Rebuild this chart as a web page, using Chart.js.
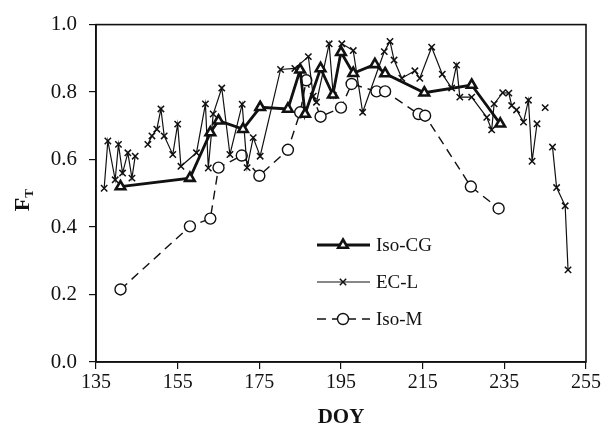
<!DOCTYPE html>
<html>
<head>
<meta charset="utf-8">
<script src="https://cdn.jsdelivr.net/npm/chart.js@4.4.1/dist/chart.umd.min.js"></script>
<style>
  html, body { margin: 0; padding: 0; background: #fff; }
  #wrap { width: 604px; height: 432px; }
</style>
</head>
<body>
<div id="wrap"><canvas id="ftChart" width="604" height="432"></canvas></div>
<script>
// DOY ticks
const xTicks = [135, 155, 175, 195, 215, 235, 255];
const yTicks = [0.0, 0.2, 0.4, 0.6, 0.8, 1.0];

// Iso-CG
const isoCgDays = [141, 158, 163, 165, 171, 175.2, 182, 185, 186.2, 190, 193, 195, 198, 203.3, 205.8, 215.4, 227, 234];
const isoCgValues = [0.52, 0.545, 0.68, 0.715, 0.69, 0.755, 0.75, 0.866, 0.735, 0.87, 0.792, 0.918, 0.856, 0.882, 0.855, 0.798, 0.821, 0.706];

// EC-L (null = gap in record)
const ecLDays = [137, 137.9, 139.7, 140.5, 141.5, 142.8, 143.8, 144.6, 146,
  147.7, 148.7, 149.9, 150.9, 151.7, 153.8, 155, 155.8, 159.6, 161.8, 162.5, 163.7, 165.8, 167.8,
  170.8, 172, 173.5, 175.2, 180.2, 183.7, 187, 188.2, 189, 192.1, 193.1, 195.2, 198, 200.3,
  205.6, 207, 208, 209.9, 213.1, 214.3, 217.2, 219.8, 222.1, 223.3, 224.1, 227, 230.7, 231.9,
  232.5, 234.6, 236.1, 236.8, 238, 239.7, 240.9, 241.8, 243, 244, 245, 246, 246.8, 247.8, 249.9, 250.6];
const ecLValues = [0.515, 0.655, 0.54, 0.645, 0.56, 0.62, 0.545, 0.61, null,
  0.645, 0.67, 0.69, 0.75, 0.67, 0.615, 0.705, 0.58, 0.62, 0.765, 0.575, 0.735, 0.812, 0.615,
  0.764, 0.576, 0.665, 0.61, 0.867, 0.87, 0.905, 0.788, 0.77, 0.943, 0.79, 0.943, 0.923, 0.74,
  0.92, 0.95, 0.895, 0.841, 0.863, 0.841, 0.933, 0.853, 0.812, 0.88, 0.785, 0.785, 0.725, 0.688,
  0.765, 0.798, 0.797, 0.76, 0.747, 0.711, 0.776, 0.595, 0.706, null, 0.754, null, 0.637, 0.517, 0.463, 0.273];

// Iso-M
const isoMDays = [141, 158, 163, 165, 170.7, 175, 182, 185, 186.5, 190, 195, 197.6, 203.7, 205.8, 214, 215.6, 226.8, 233.6];
const isoMValues = [0.215, 0.402, 0.425, 0.576, 0.612, 0.552, 0.629, 0.74, 0.835, 0.727, 0.754, 0.824, 0.802, 0.802, 0.735, 0.73, 0.52, 0.455];

function toPoints(days, values) {
    return days.map(function (d, i) { return { x: d, y: values[i] }; });
}

const serif = "'Liberation Serif', 'Times New Roman', serif";
const ink = '#111';

// box round the plot area
const framePlugin = {
    id: 'frame',
    afterDraw: function (chart) {
        const a = chart.chartArea;
        const ctx = chart.ctx;
        ctx.save();
        ctx.strokeStyle = ink;
        ctx.lineWidth = 1.6;
        ctx.strokeRect(a.left, a.top, a.right - a.left, a.bottom - a.top);
        ctx.restore();
    }
};

// F with subscript T on the y axis
const yTitlePlugin = {
    id: 'yTitle',
    afterDraw: function (chart) {
        const ctx = chart.ctx;
        const a = chart.chartArea;
        ctx.save();
        ctx.translate(29, (a.top + a.bottom) / 2 + 18);
        ctx.rotate(-Math.PI / 2);
        ctx.fillStyle = ink;
        ctx.textBaseline = 'alphabetic';
        ctx.font = "bold 22px " + serif;
        ctx.fillText('F', 0, 0);
        const w = ctx.measureText('F').width;
        ctx.font = "bold 13px " + serif;
        ctx.fillText('T', w, 4);
        ctx.restore();
    }
};

// Excel-like legend inside the plot: line with marker in the middle
const insideLegend = {
    id: 'insideLegend',
    afterDraw: function (chart) {
        const ctx = chart.ctx;
        const rows = [245, 282, 319];
        const x0 = 317, x1 = 370, xm = 343;
        chart.data.datasets.forEach(function (ds, i) {
            const y = rows[i];
            ctx.save();
            ctx.strokeStyle = ds.borderColor;
            ctx.lineWidth = ds.borderWidth;
            ctx.setLineDash(ds.borderDash || []);
            ctx.beginPath();
            ctx.moveTo(x0, y);
            ctx.lineTo(x1, y);
            ctx.stroke();
            ctx.setLineDash([]);
            ctx.fillStyle = ds.pointBackgroundColor;
            ctx.strokeStyle = ds.pointBorderColor;
            ctx.lineWidth = ds.pointBorderWidth;
            Chart.helpers.drawPoint(ctx, {
                pointStyle: ds.pointStyle,
                radius: ds.pointRadius,
                rotation: 0,
                borderWidth: ds.pointBorderWidth
            }, xm, y);
            ctx.fillStyle = ink;
            ctx.font = "19px " + serif;
            ctx.textBaseline = 'middle';
            ctx.fillText(ds.label, 376, y + 1);
            ctx.restore();
        });
    }
};

const chartData = {
    datasets: [
        {
            label: 'Iso-CG',
            data: toPoints(isoCgDays, isoCgValues),
            borderColor: ink,
            borderWidth: 2.8,
            pointStyle: 'triangle',
            pointRadius: 5.5,
            pointBorderWidth: 2.6,
            pointBackgroundColor: '#fff',
            pointBorderColor: ink
        },
        {
            label: 'EC-L',
            data: toPoints(ecLDays, ecLValues),
            borderColor: ink,
            borderWidth: 1.2,
            pointStyle: 'crossRot',
            pointRadius: 4.5,
            pointBorderWidth: 1.5,
            pointBackgroundColor: ink,
            pointBorderColor: ink
        },
        {
            label: 'Iso-M',
            data: toPoints(isoMDays, isoMValues),
            borderColor: ink,
            borderWidth: 1.4,
            borderDash: [9, 6],
            pointStyle: 'circle',
            pointRadius: 5.5,
            pointBorderWidth: 1.4,
            pointBackgroundColor: '#fff',
            pointBorderColor: ink
        }
    ]
};

new Chart(document.getElementById('ftChart'), {
    type: 'line',
    data: chartData,
    plugins: [framePlugin, yTitlePlugin, insideLegend],
    options: {
        responsive: false,
        animation: false,
        spanGaps: false,
        layout: { padding: { top: 17, right: 18, left: 0, bottom: 0 } },
        plugins: {
            legend: { display: false },
            tooltip: { enabled: false }
        },
        elements: { line: { tension: 0 } },
        scales: {
            x: {
                type: 'linear',
                min: xTicks[0],
                max: xTicks[xTicks.length - 1],
                afterFit: function (scale) { scale.height = 70; },
                afterBuildTicks: function (scale) {
                    scale.ticks = xTicks.map(function (v) { return { value: v }; });
                },
                grid: { drawOnChartArea: false, drawTicks: true, tickLength: 7, color: ink, lineWidth: 1.2 },
                border: { display: true, color: ink, width: 1.6 },
                ticks: {
                    color: ink,
                    padding: 2,
                    maxRotation: 0,
                    font: { family: serif, size: 20 }
                },
                title: {
                    display: true,
                    text: 'DOY',
                    color: ink,
                    padding: { top: 0, bottom: 2 },
                    font: { family: serif, size: 21, weight: 'bold' }
                }
            },
            y: {
                min: 0,
                max: 1,
                afterFit: function (scale) { scale.width = 96; },
                afterBuildTicks: function (scale) {
                    scale.ticks = yTicks.map(function (v) { return { value: v }; });
                },
                grid: { drawOnChartArea: false, drawTicks: true, tickLength: 7, color: ink, lineWidth: 1.2 },
                border: { display: true, color: ink, width: 1.6 },
                ticks: {
                    color: ink,
                    padding: 12,
                    font: { family: serif, size: 21 },
                    callback: function (v) { return Number(v).toFixed(1); }
                }
            }
        }
    }
});
</script>
</body>
</html>
